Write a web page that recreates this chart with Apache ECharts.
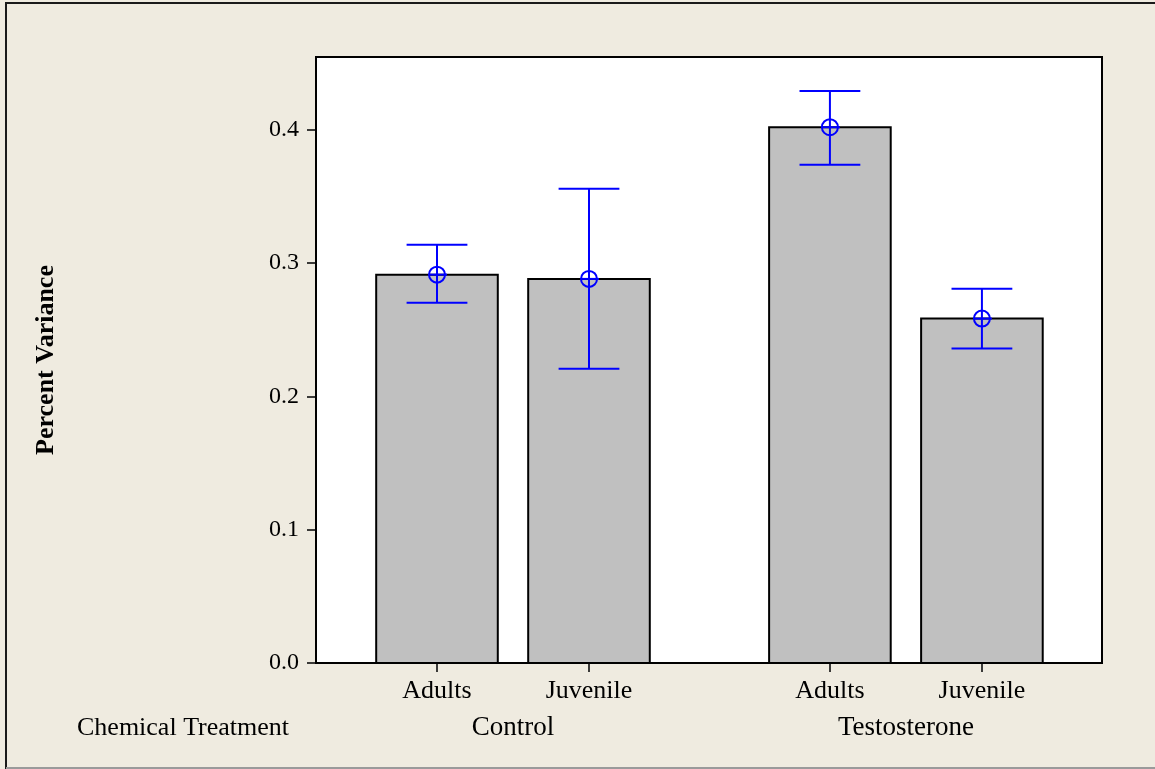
<!DOCTYPE html>
<html>
<head>
<meta charset="utf-8">
<script src="https://cdn.jsdelivr.net/npm/echarts@6/dist/echarts.min.js"></script>
<style>
html,body{margin:0;padding:0;background:#EFEBE0;}
#chart{width:1155px;height:769px;}
</style>
</head>
<body>
<div id="chart"></div>
<script>
// ---- data ----
const groups = ["Control", "Testosterone"];
const subgroups = ["Adults", "Juvenile"];
const means = [0.2914, 0.2882, 0.4020, 0.2584];
const lowerCI = [0.2704, 0.2208, 0.3738, 0.2360];
const upperCI = [0.3139, 0.3558, 0.4292, 0.2809];
const yTicks = [0.0, 0.1, 0.2, 0.3, 0.4];
const axisTitleY = "Percent Variance";
const axisTitleX = "Chemical Treatment";

// ---- layout helpers ----
const GAP = 0.585;          // extra space between groups (in bar slots)
const HALF = 0.4;           // half bar width (in slot units)
const CAP = 0.2;            // half error-cap width
const slotPos = (g, m) => g * (subgroups.length + GAP) + m;
const items = [];
groups.forEach((g, gi) => subgroups.forEach((s, si) => {
  const k = gi * subgroups.length + si;
  items.push({ x: slotPos(gi, si), label: s, mean: means[k], lo: lowerCI[k], hi: upperCI[k] });
}));
const groupCenters = groups.map((g, gi) => (slotPos(gi, 0) + slotPos(gi, subgroups.length - 1)) / 2);
const X_MIN = -0.796, X_MAX = 4.375;
const FONT = "'Liberation Serif', 'Times New Roman', serif";

function nearestLabel(v, arr, labels) {
  let best = 0, bd = Infinity;
  arr.forEach((p, i) => { const d = Math.abs(p - v); if (d < bd) { bd = d; best = i; } });
  return labels[best];
}

const chart = echarts.init(document.getElementById('chart'), null, { renderer: 'canvas' });
const option = {
  backgroundColor: '#EFEBE0',
  animation: false,
  grid: {
    left: 316, top: 57, width: 786, height: 606,
    show: true, backgroundColor: '#FFFFFF', borderColor: '#000000', borderWidth: 2
  },
  xAxis: [{
    type: 'value', min: X_MIN, max: X_MAX, position: 'bottom',
    splitLine: { show: false },
    axisLine: { show: true, onZero: false, lineStyle: { color: '#000', width: 2 } },
    axisTick: { show: true, length: 9, inside: false, customValues: items.map(d => d.x), lineStyle: { color: '#000', width: 1.5 } },
    axisLabel: {
      show: true, customValues: items.map(d => d.x), margin: 15,
      color: '#000', fontFamily: FONT, fontSize: 26,
      formatter: v => nearestLabel(v, items.map(d => d.x), items.map(d => d.label))
    }
  }, {
    type: 'value', min: X_MIN, max: X_MAX, position: 'bottom',
    splitLine: { show: false },
    axisLine: { show: false, onZero: false }, axisTick: { show: false },
    axisLabel: {
      show: true, customValues: groupCenters, margin: 51,
      color: '#000', fontFamily: FONT, fontSize: 27,
      formatter: v => nearestLabel(v, groupCenters, groups)
    }
  }],
  yAxis: {
    type: 'value', min: 0, max: 0.4547, interval: 0.1,
    splitLine: { show: false },
    axisLine: { show: true, onZero: false, lineStyle: { color: '#000', width: 2 } },
    axisTick: { show: true, length: 9, customValues: yTicks, lineStyle: { color: '#000', width: 1.5 } },
    axisLabel: {
      customValues: yTicks, margin: 17, color: '#000', fontFamily: FONT, fontSize: 24,
      formatter: v => v.toFixed(1)
    },
    name: axisTitleY, nameLocation: 'middle', nameGap: 257, nameRotate: 90,
    nameTextStyle: { color: '#000', fontFamily: FONT, fontSize: 26, fontWeight: 'bold' }
  },
  series: [{
    type: 'custom',
    xAxisIndex: 0, yAxisIndex: 0,
    data: items.map(d => [d.x, d.mean]),
    encode: { x: 0, y: 1 },
    renderItem: function (params, api) {
      const x = api.value(0), v = api.value(1);
      const p0 = api.coord([x - HALF, v]);
      const p1 = api.coord([x + HALF, 0]);
      return {
        type: 'rect',
        shape: { x: p0[0], y: p0[1], width: p1[0] - p0[0], height: p1[1] - p0[1] },
        style: { fill: '#C0C0C0', stroke: '#000000', lineWidth: 2 }
      };
    }
  }, {
    type: 'custom',
    xAxisIndex: 0, yAxisIndex: 0,
    data: items.map(d => [d.x, d.mean, d.lo, d.hi]),
    encode: { x: 0, y: [1, 2, 3] },
    z: 5,
    renderItem: function (params, api) {
      const x = api.value(0), m = api.value(1), lo = api.value(2), hi = api.value(3);
      const pm = api.coord([x, m]);
      const pl = api.coord([x, lo]);
      const ph = api.coord([x, hi]);
      const cl = api.coord([x - CAP, lo]);
      const cr = api.coord([x + CAP, lo]);
      const st = { stroke: '#0000FF', lineWidth: 2, fill: null };
      const r = 8;
      return {
        type: 'group',
        children: [
          { type: 'line', shape: { x1: ph[0], y1: ph[1], x2: pl[0], y2: pl[1] }, style: st },
          { type: 'line', shape: { x1: cl[0], y1: ph[1], x2: cr[0], y2: ph[1] }, style: st },
          { type: 'line', shape: { x1: cl[0], y1: pl[1], x2: cr[0], y2: pl[1] }, style: st },
          { type: 'circle', shape: { cx: pm[0], cy: pm[1], r: r }, style: { stroke: '#0000FF', lineWidth: 2, fill: 'none' } },
          { type: 'line', shape: { x1: pm[0] - r, y1: pm[1], x2: pm[0] + r + 2, y2: pm[1] }, style: st }
        ]
      };
    }
  }],
  graphic: [
    { type: 'polyline', shape: { points: [[6, 769], [6, 3], [1160, 3]] }, style: { stroke: '#1a1a1a', lineWidth: 2, fill: null } },
    { type: 'line', shape: { x1: 6, y1: 768, x2: 1160, y2: 768 }, style: { stroke: '#9a9a9a', lineWidth: 2 } },
    { type: 'text', left: 77, top: 715, style: { text: axisTitleX, fill: '#000', font: "26px 'Liberation Serif', 'Times New Roman', serif" } }
  ]
};
chart.setOption(option);
</script>
</body>
</html>
